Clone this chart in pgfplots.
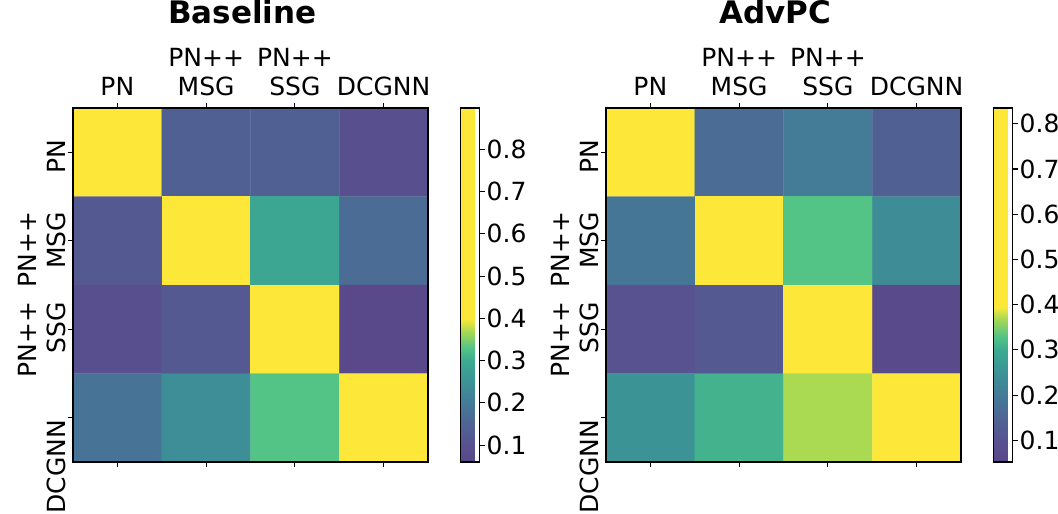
\documentclass[border=0pt]{standalone}
\usepackage{fontspec}
\setmainfont{DejaVu Sans}
\usepackage{pgfplots}
\pgfplotsset{compat=1.18}
\usepackage{pgfplotstable}

\pgfplotstableread{
x y c
0 0 0.89
1 0 0.14
2 0 0.14
3 0 0.09
0 1 0.12
1 1 0.89
2 1 0.29
3 1 0.17
0 2 0.09
1 2 0.12
2 2 0.89
3 2 0.07
0 3 0.185
1 3 0.24
2 3 0.33
3 3 0.89
}\basetab

\pgfplotstableread{
x y c
0 0 0.83
1 0 0.17
2 0 0.20
3 0 0.14
0 1 0.19
1 1 0.83
2 1 0.33
3 1 0.235
0 2 0.10
1 2 0.12
2 2 0.83
3 2 0.07
0 3 0.25
1 3 0.31
2 3 0.37
3 3 0.83
}\advtab

\pgfplotsset{
  colormap={basecm}{
    rgb255(60pt)=(90,70,138);
    rgb255(100pt)=(88,82,144);
    rgb255(150pt)=(79,100,148);
    rgb255(200pt)=(68,123,151);
    rgb255(250pt)=(59,147,150);
    rgb255(300pt)=(60,171,145);
    rgb255(330pt)=(84,195,134);
    rgb255(370pt)=(170,218,82);
    rgb255(400pt)=(253,232,58);
    rgb255(898pt)=(253,232,58)
  },
  colormap={advcm}{
    rgb255(52pt)=(90,70,138);
    rgb255(100pt)=(88,82,144);
    rgb255(150pt)=(79,100,148);
    rgb255(200pt)=(68,123,151);
    rgb255(250pt)=(59,147,150);
    rgb255(300pt)=(60,171,145);
    rgb255(330pt)=(84,195,134);
    rgb255(370pt)=(170,218,82);
    rgb255(395pt)=(253,232,58);
    rgb255(835pt)=(253,232,58)
  },
  /pgf/number format/assume math mode=true,
  hm/.style={
    scale only axis, width=355pt, height=354pt,
    xmin=-0.5, xmax=3.5, ymin=-0.5, ymax=3.5, y dir=reverse,
    enlargelimits=false, axis on top,
    xtick={0,1,2,3}, ytick={0,1,2,3},
    xticklabels={PN, {PN++\\MSG}, {PN++\\SSG}, DCGNN},
    yticklabels={{PN\hspace*{-15pt}}, {PN++\hspace*{-31pt}\\MSG\hspace*{-31pt}}, {PN++\hspace*{-29.5pt}\\SSG\hspace*{-29.5pt}}, {DCGNN}},
    xticklabel pos=upper, xtick pos=both, ytick pos=left,
    tick align=outside, major tick length=5pt,
    every tick/.style={black, line width=1.1pt},
    axis line style={line width=1.1pt},
    tick label style={font=\fontsize{25}{29}\selectfont, align=center},
    xticklabel style={anchor=south, inner sep=2pt, yshift=5pt},
    yticklabel style={rotate=90, anchor=south east, inner sep=2pt, align=right},
    title style={font=\fontsize{31}{36}\selectfont\bfseries, at={(0.5,1)}, anchor=base, yshift=79pt, xshift=-8pt},
    colorbar,
    colorbar style={
      at={(parent axis.north east)}, anchor=north west, xshift=24pt,
      width=19pt,
      ytick={0.1,0.2,0.3,0.4,0.5,0.6,0.7,0.8},
      ytick pos=right, yticklabel pos=right,
      tick align=outside, major tick length=5pt,
      every tick/.style={black, line width=1.1pt},
      axis line style={line width=1.1pt},
      yticklabel style={font=\fontsize{25}{29}\selectfont,
        /pgf/number format/fixed, /pgf/number format/fixed zerofill,
        /pgf/number format/precision=1,
        /pgf/number format/assume math mode=true,
        anchor=west, inner sep=2pt},
    },
  }
}

\begin{document}
\begin{tikzpicture}
\useasboundingbox (-73pt,-52pt) rectangle (985pt,462pt);
\begin{axis}[hm, title=Baseline, colormap name=basecm,
  point meta min=0.06, point meta max=0.898]
\addplot[matrix plot*, mesh/cols=4, point meta=explicit] table[x=x, y=y, meta=c] {\basetab};
\end{axis}
\begin{axis}[hm, title=AdvPC, colormap name=advcm, at={(533pt,0pt)},
  point meta min=0.052, point meta max=0.835]
\addplot[matrix plot*, mesh/cols=4, point meta=explicit] table[x=x, y=y, meta=c] {\advtab};
\end{axis}
\end{tikzpicture}
\end{document}
